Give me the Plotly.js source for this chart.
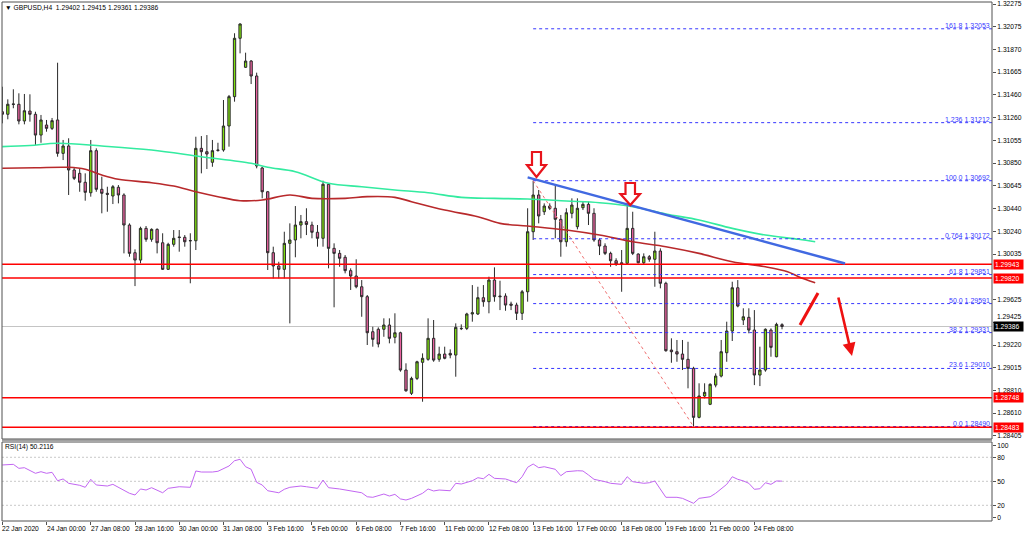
<!DOCTYPE html>
<html><head><meta charset="utf-8">
<script src="https://cdn.plot.ly/plotly-3.0.1.min.js"></script>
<style>html,body{margin:0;padding:0;background:#fff;}#chart{width:1024px;height:536px;}</style>
</head><body><div id="chart"></div>
<script>
const opens = [1.31310,1.31287,1.31380,1.31377,1.31227,1.31316,1.31287,1.31101,1.31191,1.31161,
1.31236,1.30937,1.31003,1.30788,1.30758,1.30678,1.30584,1.30961,1.30615,1.30579,
1.30555,1.30633,1.30564,1.30295,1.30047,1.29981,1.30265,1.30167,1.30256,1.30136,
1.29898,1.30122,1.30188,1.30185,1.30156,1.30154,1.30982,1.30952,1.30857,1.30967,
1.30967,1.31182,1.31445,1.31968,1.31708,1.31764,1.31630,1.30806,1.30593,1.30047,
1.29928,1.29898,1.30131,1.30161,1.30295,1.30325,1.30295,1.30230,1.30176,1.30660,
1.30086,1.30041,1.30006,1.29886,1.29838,1.29742,1.29653,1.29339,1.29361,1.29361,
1.29399,1.29289,1.29330,1.28996,1.28787,1.28921,1.29065,1.29092,1.29280,1.29092,
1.29139,1.29145,1.29130,1.29369,1.29369,1.29498,1.29498,1.29644,1.29608,1.29802,
1.29659,1.29659,1.29587,1.29578,1.29504,1.29697,1.30235,1.30564,1.30414,1.30465,
1.30445,1.30346,1.30145,1.30400,1.30280,1.30450,1.30480,1.30400,1.30161,1.30107,
1.30041,1.29975,1.29957,1.29952,1.30265,1.30035,1.29957,1.30011,1.29988,1.30062,
1.29773,1.29175,1.29160,1.29139,1.29092,1.29011,1.28572,1.28763,1.28689,1.28861,
1.28942,1.29151,1.29345,1.29733,1.29444,1.29468,1.29354,1.28951,1.28996,1.29354,
1.29115,1.29402];
const highs = [1.31534,1.31421,1.31511,1.31475,1.31469,1.31466,1.31310,1.31281,1.31236,1.31254,
1.31749,1.31057,1.31072,1.30806,1.30803,1.30758,1.31057,1.30982,1.30728,1.30638,
1.30653,1.30653,1.30579,1.30310,1.30077,1.30280,1.30286,1.30265,1.30265,1.30221,
1.30136,1.30250,1.30250,1.30205,1.30221,1.31086,1.31092,1.31101,1.31057,1.31032,
1.31415,1.31460,1.32013,1.32102,1.31839,1.31773,1.31660,1.30817,1.30600,1.30101,
1.29966,1.30235,1.30310,1.30465,1.30385,1.30445,1.30325,1.30295,1.30692,1.30668,
1.30131,1.30071,1.30026,1.29907,1.29988,1.29802,1.29668,1.29384,1.29378,1.29459,
1.29459,1.29504,1.29339,1.29056,1.28936,1.29079,1.29145,1.29459,1.29444,1.29205,
1.29205,1.29181,1.29414,1.29405,1.29509,1.29757,1.29742,1.29757,1.29832,1.29916,
1.29796,1.29683,1.29608,1.29599,1.29713,1.30445,1.30692,1.30609,1.30489,1.30489,
1.30653,1.30385,1.30445,1.30534,1.30534,1.30504,1.30504,1.30445,1.30176,1.30131,
1.30056,1.29997,1.30071,1.30489,1.30414,1.30041,1.30041,1.30026,1.30235,1.30086,
1.29787,1.29280,1.29265,1.29265,1.29249,1.29025,1.28877,1.28877,1.28877,1.28966,
1.29265,1.29429,1.29787,1.29802,1.29549,1.29549,1.29533,1.29205,1.29369,1.29369,
1.29420,1.29415];
const lows = [1.31206,1.31242,1.31341,1.31197,1.31197,1.31221,1.31012,1.31032,1.31131,1.31146,
1.30907,1.30877,1.30564,1.30698,1.30593,1.30513,1.30549,1.30593,1.30400,1.30414,
1.30483,1.30489,1.30041,1.30011,1.29748,1.29952,1.30145,1.30145,1.30041,1.29892,
1.29892,1.30101,1.30056,1.30101,1.29773,1.30071,1.30758,1.30797,1.30817,1.30952,
1.30952,1.30997,1.31400,1.31833,1.31702,1.31558,1.30803,1.30534,1.29892,1.29817,
1.29817,1.29817,1.29414,1.30006,1.30176,1.30205,1.30176,1.30101,1.30101,1.29907,
1.29558,1.29921,1.29862,1.29713,1.29728,1.29473,1.29220,1.29205,1.29199,1.29294,
1.29235,1.29235,1.28981,1.28801,1.28772,1.28906,1.28712,1.29079,1.29070,1.29070,
1.29092,1.29101,1.28936,1.29354,1.29354,1.29429,1.29489,1.29563,1.29504,1.29608,
1.29533,1.29527,1.29533,1.29444,1.29444,1.29608,1.30161,1.30310,1.30385,1.30429,
1.30176,1.30011,1.30101,1.30355,1.30256,1.30429,1.30295,1.30145,1.30026,1.30026,
1.29921,1.29928,1.29697,1.29946,1.30026,1.29952,1.29946,1.29966,1.29742,1.29728,
1.29160,1.29061,1.29070,1.28996,1.28832,1.28490,1.28563,1.28742,1.28682,1.28841,
1.28930,1.29070,1.29256,1.29558,1.29399,1.29325,1.28861,1.28852,1.28981,1.29115,
1.29110,1.29361];
const closes = [1.31287,1.31377,1.31376,1.31227,1.31319,1.31287,1.31101,1.31236,1.31161,1.31230,
1.30937,1.31003,1.30788,1.30713,1.30678,1.30588,1.30961,1.30615,1.30579,1.30570,
1.30638,1.30564,1.30295,1.30041,1.29981,1.30265,1.30167,1.30256,1.30136,1.29898,
1.30122,1.30176,1.30183,1.30145,1.30154,1.30982,1.30952,1.30931,1.30961,1.30964,
1.31182,1.31445,1.31968,1.32096,1.31764,1.31630,1.30824,1.30593,1.30047,1.29928,
1.29898,1.30131,1.30161,1.30295,1.30325,1.30300,1.30230,1.30176,1.30660,1.30086,
1.30041,1.29997,1.29886,1.29838,1.29742,1.29653,1.29330,1.29271,1.29229,1.29399,
1.29280,1.29330,1.28996,1.28810,1.28921,1.29070,1.29101,1.29280,1.29085,1.29139,
1.29101,1.29130,1.29378,1.29367,1.29498,1.29509,1.29644,1.29608,1.29802,1.29653,
1.29653,1.29578,1.29576,1.29504,1.29697,1.30235,1.30564,1.30376,1.30465,1.30445,
1.30346,1.30145,1.30405,1.30474,1.30445,1.30480,1.30400,1.30161,1.30107,1.30041,
1.29975,1.29946,1.29946,1.30265,1.30041,1.29957,1.30011,1.29988,1.30062,1.29773,
1.29169,1.29160,1.29139,1.29092,1.29011,1.28572,1.28763,1.28796,1.28868,1.28942,
1.29160,1.29345,1.29733,1.29569,1.29473,1.29354,1.28951,1.28996,1.29361,1.29199,
1.29405,1.29386];

const maGreenIdx = [0,5,10,18,27,36,45,48,53,59,65,71,77,83,89,95,102,108,114,120,126,132,138,144,147];
const maGreen = [1.30997,1.31007,1.31027,1.31003,1.30967,1.30907,1.30848,1.30812,1.30773,1.30669,1.30638,1.30609,1.30584,1.30543,1.30534,1.30528,1.30510,1.30495,1.30459,1.30394,1.30340,1.30265,1.30205,1.30167,1.30145];
const maRedIdx = [0,6,12,15,18,21,27,31,35,39,43,47,52,56,62,66,71,74,80,86,90,95,102,108,114,120,126,132,138,142,144,147];
const maRed = [1.30803,1.30808,1.30812,1.30794,1.30743,1.30705,1.30674,1.30644,1.30593,1.30549,1.30513,1.30519,1.30564,1.30534,1.30534,1.30549,1.30543,1.30504,1.30429,1.30369,1.30310,1.30286,1.30250,1.30205,1.30145,1.30101,1.30041,1.29966,1.29921,1.29877,1.29832,1.29778];

const rsiIdx = [0,2,3,4,6,7,8,9,10,11,12,13,14,15,16,17,19,20,21,22,23,24,25,26,27,29,30,32,34,35,36,38,39,41,42,43,44,45,46,47,48,50,51,52,54,55,57,58,59,61,65,66,67,69,70,71,72,73,74,76,77,78,79,81,82,83,85,86,87,88,89,91,92,93,94,95,96,97,98,100,101,102,104,105,106,107,109,110,112,113,114,116,117,118,120,122,123,125,126,128,129,131,132,133,134,135,136,137,138,139,140,141];
const rsiVals = [70.4,71.2,66.2,67,60,62,60,61.2,50.7,52.9,47.5,46,45,42.5,52.5,45.4,44.1,46.2,42.5,38,35,32.9,40.4,39.1,42,35.7,41.2,43.2,42.5,62.9,61.6,61.6,62.5,69.1,75.7,77.5,68.2,65,48.7,45.4,38.2,35.7,40,42.5,44.1,43.2,41.2,51.6,42,40.4,35.7,30.7,30,34.1,31.6,33.7,28,26.6,28.7,35,40.4,37.9,39.1,38.2,47.5,46.6,50.7,54.5,53.2,58.7,53.7,52.9,50.7,48.2,55.7,67.5,71.6,67,68.2,65,57,62,63.2,62.9,57.9,52.5,49.5,47.5,46.2,55.7,49.5,47.5,48.2,50.4,30,30,28.7,22.5,28.7,30.7,35,46.2,55.7,52.5,50.5,47.5,40,40.7,48.2,46.2,50.4,50.2116];

const xLabelIdx = [0,8,16,24,32,40,48,56,64,72,80,88,96,104,112,120,128,136];
const xLabels = ['22 Jan 2020','24 Jan 00:00','27 Jan 08:00','28 Jan 16:00','30 Jan 00:00','31 Jan 08:00','3 Feb 16:00','5 Feb 00:00','6 Feb 08:00','7 Feb 16:00','11 Feb 00:00','12 Feb 08:00','13 Feb 16:00','17 Feb 00:00','18 Feb 08:00','19 Feb 16:00','21 Feb 00:00','24 Feb 08:00'];
const priceTicks = [1.32275,1.32075,1.31870,1.31665,1.31460,1.31260,1.31055,1.30850,1.30645,1.30440,1.30240,1.30035,1.29625,1.29220,1.29015,1.28810,1.28610,1.28405];
const hiddenTick = 1.29425;
const fibLevels = [1.32053,1.31212,1.30692,1.30172,1.29851,1.29591,1.29331,1.29010,1.28490];
const fibNames = ['161.8','1.236','100.0','0.764','61.8','50.0','38.2','23.6','0.0'];
const redLevels = [1.29943,1.29820,1.28748,1.28483];
const lastPrice = 1.29386;
const headerText = '\u25BC GBPUSD,H4  1.29402 1.29415 1.29361 1.29386';
const rsiText = 'RSI(14) 50.2116';

const W=1024,H=536,L=2,R=32,T=2,B=15;
const plotW=W-L-R, plotH=H-T-B;
const px = x => (x-L)/plotW;
const py = y => (H-B-y)/plotH;
const P = (x,y) => px(x).toFixed(5)+','+py(y).toFixed(5);
const FONT = '"Liberation Sans", Arial, sans-serif';
const FS = 6.7;
const idx = opens.map((_,i)=>i);
const xMax = 178.97;

const traces = [
 {type:'candlestick', x:idx, open:opens, high:highs, low:lows, close:closes,
  increasing:{line:{color:'#2a2a2a',width:1}, fillcolor:'#7FE00F'},
  decreasing:{line:{color:'#2a2a2a',width:1}, fillcolor:'#E8619F'},
  whiskerwidth:0, hoverinfo:'skip', xaxis:'x', yaxis:'y', showlegend:false},
 {type:'scatter', mode:'lines', x:maGreenIdx, y:maGreen, line:{color:'#33EBA0',width:1.6,shape:'spline'}, xaxis:'x', yaxis:'y', hoverinfo:'skip', showlegend:false},
 {type:'scatter', mode:'lines', x:maRedIdx, y:maRed, line:{color:'#B8292B',width:1.6,shape:'spline'}, xaxis:'x', yaxis:'y', hoverinfo:'skip', showlegend:false},
 {type:'scatter', mode:'lines', x:rsiIdx, y:rsiVals, line:{color:'#C266F2',width:1}, xaxis:'x', yaxis:'y2', hoverinfo:'skip', showlegend:false}
];

const shapes = [];
const annotations = [];
[80,50,20].forEach(v=>shapes.push({type:'line',xref:'paper',x0:0,x1:1,yref:'y2',y0:v,y1:v,line:{color:'#C8C8C8',width:1,dash:'2px,2px'},layer:'below'}));
shapes.push({type:'line',xref:'paper',x0:0,x1:1,yref:'y',y0:lastPrice,y1:lastPrice,line:{color:'#C4C4C4',width:1},layer:'below'});
fibLevels.forEach((v,k)=>{
  shapes.push({type:'line',xref:'x',x0:96,x1:xMax,yref:'y',y0:v,y1:v,line:{color:'#3535FF',width:1,dash:'dot'}});
  annotations.push({xref:'paper',x:px(991),xanchor:'right',yref:'y',y:v,yanchor:'bottom',text:fibNames[k]+' '+v.toFixed(5),showarrow:false,font:{family:FONT,size:7,color:'#3A3AFF'},borderpad:0,yshift:-1});
});
shapes.push({type:'line',xref:'x',yref:'y',x0:96,y0:fibLevels[2],x1:125,y1:fibLevels[8],line:{color:'#F07070',width:1,dash:'dot'}});
redLevels.forEach(v=>{
  shapes.push({type:'line',xref:'paper',x0:0,x1:1,yref:'y',y0:v,y1:v,line:{color:'#FF0000',width:1.6}});
});
shapes.push({type:'line',xref:'x',yref:'y',x0:95,y0:1.30722,x1:152.4,y1:1.29950,line:{color:'#4169E1',width:2.5}});
function blockArrow(sx0,sx1,y0,hy,hx0,hx1,tx,ty){
  return {type:'path',xref:'paper',yref:'paper',
    path:'M'+P(sx0,y0)+' L'+P(sx1,y0)+' L'+P(sx1,hy)+' L'+P(hx1,hy)+' L'+P(tx,ty)+' L'+P(hx0,hy)+' L'+P(sx0,hy)+' Z',
    line:{color:'#E8141C',width:2.2},fillcolor:'#FFFFFF'};
}
shapes.push(blockArrow(532,541,152,165,527,546,536.5,177));
shapes.push(blockArrow(625.5,635,183,194,620.5,640,630.3,205));
shapes.push({type:'line',xref:'paper',yref:'paper',x0:px(800),y0:py(325),x1:px(818),y1:py(293),line:{color:'#EE1111',width:3}});
annotations.push({xref:'paper',yref:'paper',x:px(852),y:py(356),ax:-14,ay:-60,showarrow:true,arrowhead:2,arrowsize:1,arrowwidth:2.6,arrowcolor:'#EE1111',text:''});
shapes.push({type:'rect',xref:'paper',yref:'paper',x0:0,x1:1,y0:py(439),y1:1,line:{color:'#505050',width:1}});
shapes.push({type:'line',xref:'paper',yref:'paper',x0:0,x1:1,y0:py(440),y1:py(440),line:{color:'#808080',width:1.5}});
shapes.push({type:'rect',xref:'paper',yref:'paper',x0:0,x1:1,y0:0,y1:py(442),line:{color:'#505050',width:1}});
// partly hidden tick label above the current-price box
annotations.push({xref:'paper',x:px(996),xanchor:'left',yref:'y',y:hiddenTick,yanchor:'bottom',yshift:1,text:hiddenTick.toFixed(5),showarrow:false,font:{family:FONT,size:FS,color:'#000'},borderpad:0});
redLevels.forEach(v=>{
  annotations.push({xref:'paper',x:px(993),xanchor:'left',yref:'y',y:v,yanchor:'middle',text:v.toFixed(5),showarrow:false,font:{family:FONT,size:FS,color:'#FFFFFF'},bgcolor:'#FF0000',borderpad:1,width:27,height:7,align:'left'});
});
annotations.push({xref:'paper',x:px(993),xanchor:'left',yref:'y',y:lastPrice,yanchor:'middle',text:lastPrice.toFixed(5),showarrow:false,font:{family:FONT,size:FS,color:'#FFFFFF'},bgcolor:'#000000',borderpad:1,width:27,height:7,align:'left'});
annotations.push({xref:'paper',yref:'paper',x:px(3),y:py(8),xanchor:'left',yanchor:'middle',text:headerText,showarrow:false,font:{family:FONT,size:FS,color:'#000'}});
annotations.push({xref:'paper',yref:'paper',x:px(3),y:py(447),xanchor:'left',yanchor:'middle',text:rsiText,showarrow:false,font:{family:FONT,size:FS,color:'#000'}});
xLabelIdx.forEach((v,k)=>{
  annotations.push({xref:'x',x:v,xanchor:'left',xshift:-2,yref:'paper',y:py(528),yanchor:'middle',text:xLabels[k],showarrow:false,font:{family:FONT,size:FS,color:'#000'}});
});

const tickAll = priceTicks.concat([hiddenTick]);
const layout = {
  width:W,height:H,margin:{l:L,r:R,t:T,b:B,pad:0},
  paper_bgcolor:'#FFFFFF',plot_bgcolor:'#FFFFFF',
  showlegend:false, boxgap:0.4, dragmode:false,
  xaxis:{type:'linear',range:[-0.05,xMax],anchor:'y2',showgrid:false,zeroline:false,showline:false,
    tickmode:'array',tickvals:xLabelIdx,ticks:'outside',ticklen:3,tickcolor:'#505050',showticklabels:false,
    rangeslider:{visible:false},fixedrange:true},
  yaxis:{domain:[py(439),1],range:[1.28378,1.32293],side:'right',anchor:'x',showgrid:false,zeroline:false,showline:false,
    tickmode:'array',tickvals:tickAll,ticktext:priceTicks.map(v=>v.toFixed(5)).concat(['']),ticks:'outside',ticklen:3,tickcolor:'#505050',
    tickfont:{family:FONT,size:FS,color:'#000'},fixedrange:true},
  yaxis2:{domain:[0,py(442)],range:[0.4,99.1],side:'right',anchor:'x',showgrid:false,zeroline:false,showline:false,
    tickmode:'array',tickvals:[95,80,50,20,5],ticktext:['100','80','50','20','0'],ticks:'outside',ticklen:3,tickcolor:'#505050',
    tickfont:{family:FONT,size:FS,color:'#000'},fixedrange:true},
  shapes:shapes, annotations:annotations,
  font:{family:FONT,size:FS,color:'#000'}
};
Plotly.newPlot('chart',traces,layout,{displayModeBar:false,staticPlot:true});
</script></body></html>
